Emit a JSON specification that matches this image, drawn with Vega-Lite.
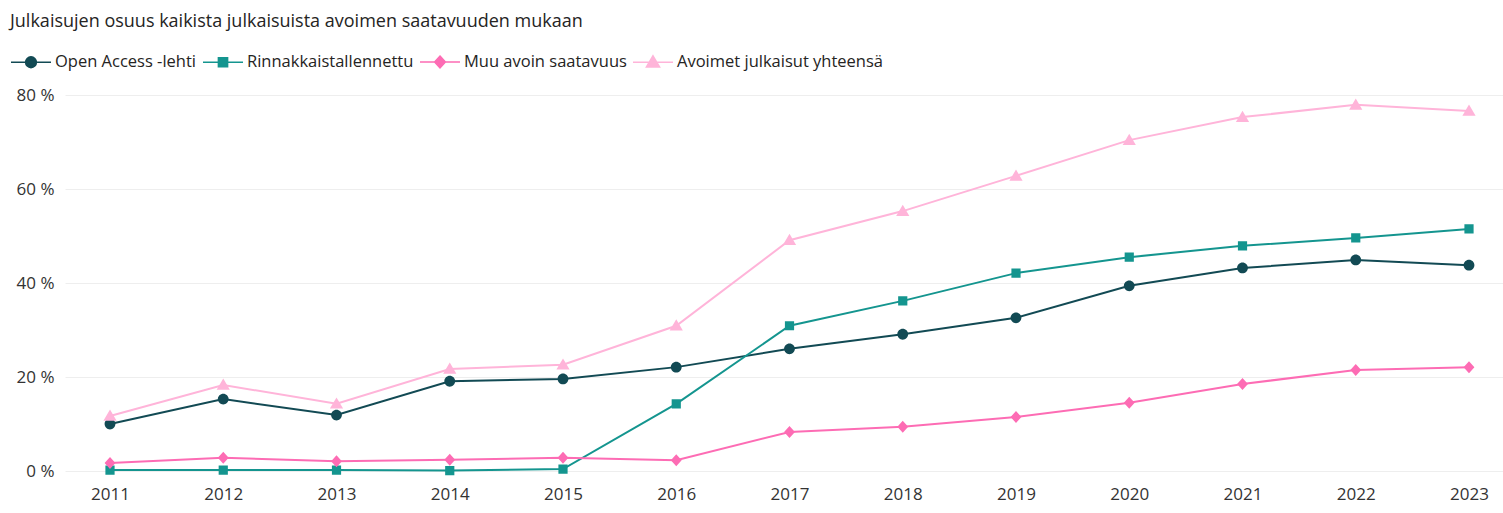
{
  "$schema": "https://vega.github.io/schema/vega-lite/v6.json",
  "width": 1438,
  "height": 376,
  "autosize": {"type": "none"},
  "padding": {"left": 65, "top": 95, "right": 0, "bottom": 42},
  "background": "white",
  "title": {
    "text": "Julkaisujen osuus kaikista julkaisuista avoimen saatavuuden mukaan",
    "anchor": "start",
    "frame": "group",
    "orient": "top",
    "dx": -55,
    "offset": 10,
    "font": "Open Sans",
    "fontSize": 18,
    "fontWeight": "normal",
    "color": "#252423"
  },
  "config": {
    "view": {"stroke": null},
    "font": "Open Sans",
    "axis": {
      "labelFont": "Open Sans",
      "labelFontSize": 17,
      "labelColor": "#333333",
      "domain": false,
      "ticks": false,
      "title": null
    },
    "legend": {
      "labelFont": "Open Sans",
      "labelFontSize": 16.5,
      "labelColor": "#252423",
      "labelLimit": 500
    }
  },
  "data": {
    "values": [
      {"year": 2011, "series": "Open Access -lehti", "value": 10.0},
      {"year": 2012, "series": "Open Access -lehti", "value": 15.3},
      {"year": 2013, "series": "Open Access -lehti", "value": 11.9},
      {"year": 2014, "series": "Open Access -lehti", "value": 19.1},
      {"year": 2015, "series": "Open Access -lehti", "value": 19.6},
      {"year": 2016, "series": "Open Access -lehti", "value": 22.1},
      {"year": 2017, "series": "Open Access -lehti", "value": 26.0},
      {"year": 2018, "series": "Open Access -lehti", "value": 29.1},
      {"year": 2019, "series": "Open Access -lehti", "value": 32.6},
      {"year": 2020, "series": "Open Access -lehti", "value": 39.4},
      {"year": 2021, "series": "Open Access -lehti", "value": 43.2},
      {"year": 2022, "series": "Open Access -lehti", "value": 44.9},
      {"year": 2023, "series": "Open Access -lehti", "value": 43.8},
      {"year": 2011, "series": "Rinnakkaistallennettu", "value": 0.2},
      {"year": 2012, "series": "Rinnakkaistallennettu", "value": 0.2},
      {"year": 2013, "series": "Rinnakkaistallennettu", "value": 0.2},
      {"year": 2014, "series": "Rinnakkaistallennettu", "value": 0.1},
      {"year": 2015, "series": "Rinnakkaistallennettu", "value": 0.4},
      {"year": 2016, "series": "Rinnakkaistallennettu", "value": 14.3},
      {"year": 2017, "series": "Rinnakkaistallennettu", "value": 30.9},
      {"year": 2018, "series": "Rinnakkaistallennettu", "value": 36.2},
      {"year": 2019, "series": "Rinnakkaistallennettu", "value": 42.1},
      {"year": 2020, "series": "Rinnakkaistallennettu", "value": 45.5},
      {"year": 2021, "series": "Rinnakkaistallennettu", "value": 47.9},
      {"year": 2022, "series": "Rinnakkaistallennettu", "value": 49.6},
      {"year": 2023, "series": "Rinnakkaistallennettu", "value": 51.5},
      {"year": 2011, "series": "Muu avoin saatavuus", "value": 1.7},
      {"year": 2012, "series": "Muu avoin saatavuus", "value": 2.8},
      {"year": 2013, "series": "Muu avoin saatavuus", "value": 2.1},
      {"year": 2014, "series": "Muu avoin saatavuus", "value": 2.4},
      {"year": 2015, "series": "Muu avoin saatavuus", "value": 2.8},
      {"year": 2016, "series": "Muu avoin saatavuus", "value": 2.3},
      {"year": 2017, "series": "Muu avoin saatavuus", "value": 8.3},
      {"year": 2018, "series": "Muu avoin saatavuus", "value": 9.4},
      {"year": 2019, "series": "Muu avoin saatavuus", "value": 11.5},
      {"year": 2020, "series": "Muu avoin saatavuus", "value": 14.5},
      {"year": 2021, "series": "Muu avoin saatavuus", "value": 18.5},
      {"year": 2022, "series": "Muu avoin saatavuus", "value": 21.5},
      {"year": 2023, "series": "Muu avoin saatavuus", "value": 22.1},
      {"year": 2011, "series": "Avoimet julkaisut yhteensä", "value": 11.7},
      {"year": 2012, "series": "Avoimet julkaisut yhteensä", "value": 18.3},
      {"year": 2013, "series": "Avoimet julkaisut yhteensä", "value": 14.3},
      {"year": 2014, "series": "Avoimet julkaisut yhteensä", "value": 21.7},
      {"year": 2015, "series": "Avoimet julkaisut yhteensä", "value": 22.6},
      {"year": 2016, "series": "Avoimet julkaisut yhteensä", "value": 30.9},
      {"year": 2017, "series": "Avoimet julkaisut yhteensä", "value": 49.1},
      {"year": 2018, "series": "Avoimet julkaisut yhteensä", "value": 55.3},
      {"year": 2019, "series": "Avoimet julkaisut yhteensä", "value": 62.8},
      {"year": 2020, "series": "Avoimet julkaisut yhteensä", "value": 70.4},
      {"year": 2021, "series": "Avoimet julkaisut yhteensä", "value": 75.3},
      {"year": 2022, "series": "Avoimet julkaisut yhteensä", "value": 77.9},
      {"year": 2023, "series": "Avoimet julkaisut yhteensä", "value": 76.6}
    ]
  },
  "encoding": {
    "x": {
      "field": "year",
      "type": "quantitative",
      "scale": {"domain": [2010.6026, 2023.3002], "nice": false, "zero": false},
      "axis": {"values": [2011, 2012, 2013, 2014, 2015, 2016, 2017, 2018, 2019, 2020, 2021, 2022, 2023], "format": "d", "grid": false, "labelPadding": 15, "labelFlush": false}
    },
    "y": {
      "field": "value",
      "type": "quantitative",
      "scale": {"domain": [0, 80], "nice": false},
      "axis": {"values": [0, 20, 40, 60, 80], "labelExpr": "datum.value + ' %'", "grid": true, "gridColor": "#eeeeee", "gridWidth": 1, "labelPadding": 11}
    },
    "color": {
      "field": "series",
      "type": "nominal",
      "scale": {
        "domain": ["Open Access -lehti", "Rinnakkaistallennettu", "Muu avoin saatavuus", "Avoimet julkaisut yhteensä"],
        "range": ["#124a54", "#14958f", "#fd6cb4", "#ffb4d9"]
      }
    }
  },
  "layer": [
    {
      "mark": {"type": "line", "strokeWidth": 2},
      "encoding": {}
    },
    {
      "mark": {"type": "point", "filled": true, "opacity": 1, "strokeWidth": 0, "size": 1600},
      "encoding": {
        "shape": {
          "field": "series",
          "type": "nominal",
          "scale": {
            "domain": ["Open Access -lehti", "Rinnakkaistallennettu", "Muu avoin saatavuus", "Avoimet julkaisut yhteensä"],
            "range": [
              "M-1,0H1M0.27,0A0.27,0.27 0 1,1 -0.27,0A0.27,0.27 0 1,1 0.27,0Z",
              "M-1,0H1M-0.23,-0.23H0.23V0.23H-0.23Z",
              "M-1,0H1M0,-0.3L0.27,0L0,0.3L-0.27,0Z",
              "M-1,0H1M0,-0.32L0.33,0.24L-0.33,0.24Z"
            ]
          }
        },
        "color": {
          "field": "series",
          "type": "nominal",
          "legend": {
            "title": null,
            "orient": "none",
            "direction": "horizontal",
            "legendX": -55,
            "legendY": -54,
            "columns": 4,
            "symbolSize": 1600,
            "labelOffset": 3,
            "columnPadding": 3,
            "encode": {
              "symbols": {
                "update": {
                  "stroke": {"scale": "color", "field": "value"},
                  "strokeWidth": {"value": 2},
                  "opacity": {"value": 1}
                }
              }
            }
          }
        }
      }
    }
  ]
}
